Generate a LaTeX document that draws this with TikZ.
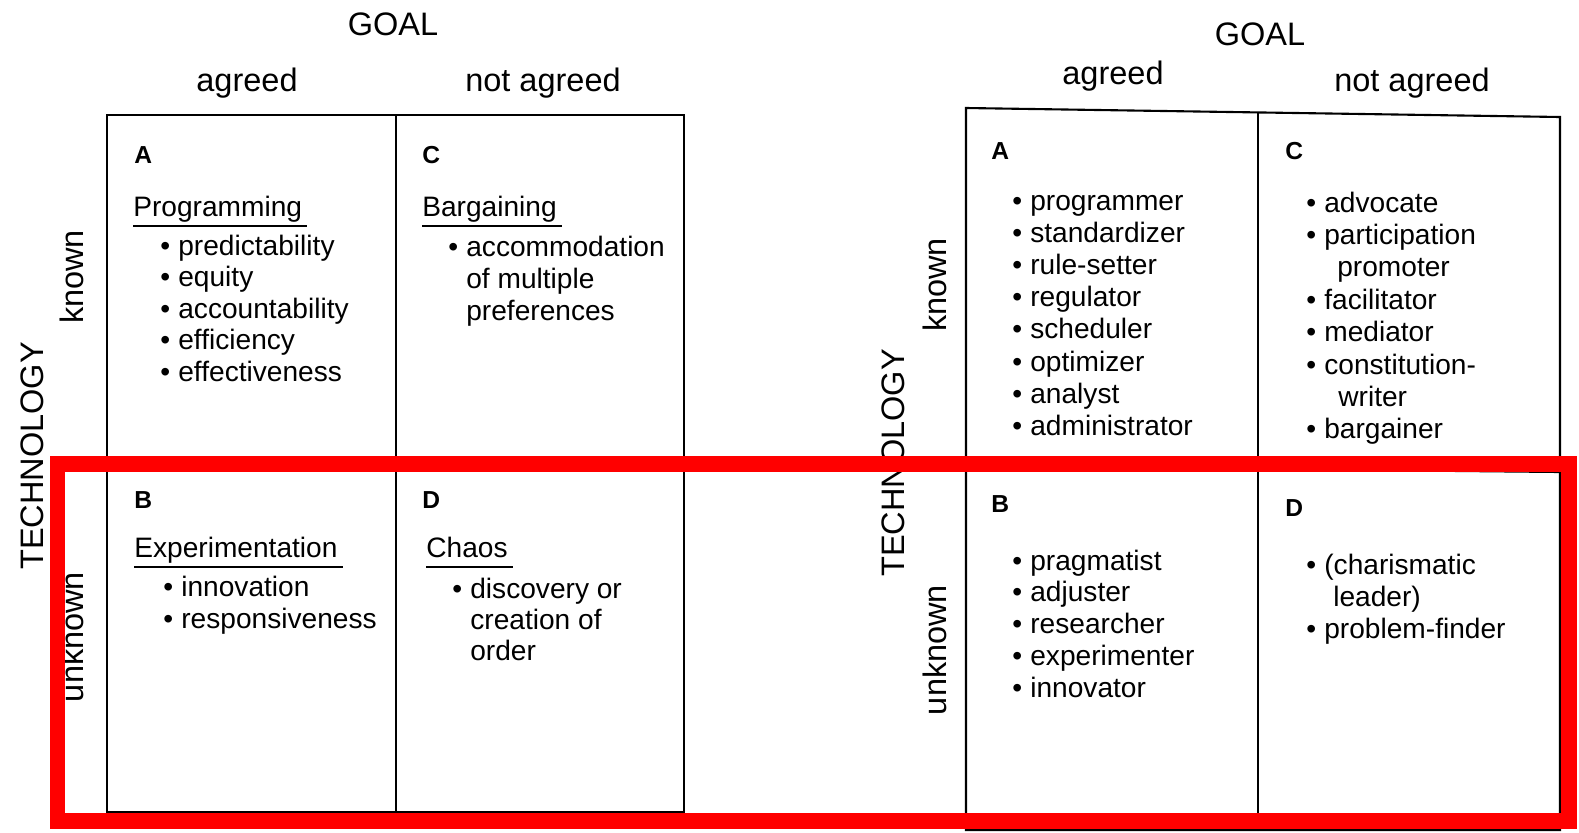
\documentclass[tikz,border=0pt]{standalone}
\usepackage{fontspec}
\setmainfont{Liberation Sans}
\usetikzlibrary{calc}

\newcommand{\bmark}{\makebox[0.36cm][l]{\textbullet}}
\newcommand{\cmark}{\hspace*{0.36cm}}

\begin{document}
\begin{tikzpicture}[
  x=0.02cm, y=-0.02cm,
  grid/.style={line width=1.2pt, line join=miter},
  hdr/.style={font=\fontsize{18.5}{22}\selectfont, anchor=base, inner sep=0pt},
  side/.style={hdr, rotate=90},
  cellid/.style={font=\fontsize{14}{16}\selectfont\bfseries, anchor=base west, inner sep=0pt},
  heading/.style={font=\fontsize{16}{18}\selectfont, anchor=base west, inner sep=0pt},
  item/.style={font=\fontsize{16}{18}\selectfont, anchor=base west, inner sep=0pt},
  uline/.style={line width=0.9pt},
  hilite/.style={draw=red, line width=0.32cm}
]
\useasboundingbox (0,0) rectangle (1579,832);

% left matrix: decision styles
\draw[grid] (107,115) rectangle (684,812);
\draw[grid] (396,115) -- (396,812);
\draw[grid] (107,460) -- (684,460);

\node[hdr] (lgoal) at (393,35) {GOAL};
\node[hdr] (lagr) at (247,91) {agreed};
\node[hdr] (lnagr) at (543,91) {not agreed};
\node[side] (ltech) at (43,456) {TECHNOLOGY};
\node[side] (lknown) at (83,277) {known};
\node[side] (lunknown) at (83,637) {unknown};

\node[cellid] (lidA) at (134,163) {A};
\node[cellid] (lidC) at (422,163) {C};
\node[cellid] (lidB) at (134,508) {B};
\node[cellid] (lidD) at (422,508) {D};

\node[heading] (prog) at (133,216) {Programming};
\node[heading] (barg) at (422,216) {Bargaining};
\node[heading] (expt) at (134,557) {Experimentation};
\node[heading] (chaos) at (426,557) {Chaos};
\foreach \n in {prog,barg,expt,chaos}
  \draw[uline] ($(\n.base west)+(0,10)$) -- ($(\n.base east)+(5,10)$);

\foreach \t [count=\i from 0] in {\bmark predictability, \bmark equity, \bmark accountability, \bmark efficiency, \bmark effectiveness}
  \node[item] (lA\i) at (160,255+31.5*\i) {\t};
\foreach \t [count=\i from 0] in {\bmark accommodation, \cmark of multiple, \cmark preferences}
  \node[item] (lC\i) at (448,256+32*\i) {\t};
\foreach \t [count=\i from 0] in {\bmark innovation, \bmark responsiveness}
  \node[item] (lB\i) at (163,596+32*\i) {\t};
\foreach \t [count=\i from 0] in {\bmark discovery or, \cmark creation of, \cmark order}
  \node[item] (lD\i) at (452,598+31*\i) {\t};

% right matrix: roles
\draw[grid] (966,108) -- (1560,117) -- (1560,830) -- (966,830) -- cycle;
\draw[grid] (1258,113) -- (1258,830);
\draw[grid] (966,466) -- (1560,472);

\node[hdr] (rgoal) at (1260,45) {GOAL};
\node[hdr] (ragr) at (1113,84) {agreed};
\node[hdr] (rnagr) at (1412,91) {not agreed};
\node[side] (rtech) at (904,463) {TECHNOLOGY};
\node[side] (rknown) at (946,285) {known};
\node[side] (runknown) at (946,650) {unknown};

\node[cellid] (ridA) at (991,159) {A};
\node[cellid] (ridC) at (1285,159) {C};
\node[cellid] (ridB) at (991,512) {B};
\node[cellid] (ridD) at (1285,516) {D};

\foreach \t [count=\i from 0] in {\bmark programmer, \bmark standardizer, \bmark rule-setter, \bmark regulator, \bmark scheduler, \bmark optimizer, \bmark analyst, \bmark administrator}
  \node[item] (rA\i) at (1012,210+32.2*\i) {\t};
\foreach \t [count=\i from 0] in {\bmark advocate, \bmark participation, \cmark\hspace*{0.26cm}promoter, \bmark facilitator, \bmark mediator, \bmark constitution-, \cmark\hspace*{0.28cm}writer, \bmark bargainer}
  \node[item] (rC\i) at (1306,212+32.4*\i) {\t};
\foreach \t [count=\i from 0] in {\bmark pragmatist, \bmark adjuster, \bmark researcher, \bmark experimenter, \bmark innovator}
  \node[item] (rB\i) at (1012,570+31.8*\i) {\t};
\foreach \t [count=\i from 0] in {\bmark (charismatic, \cmark\hspace*{0.18cm}leader), \bmark problem-finder}
  \node[item] (rD\i) at (1306,574+32*\i) {\t};

% highlight
\draw[hilite] (57.5,464) rectangle (1569,820.5);
\end{tikzpicture}
\end{document}
